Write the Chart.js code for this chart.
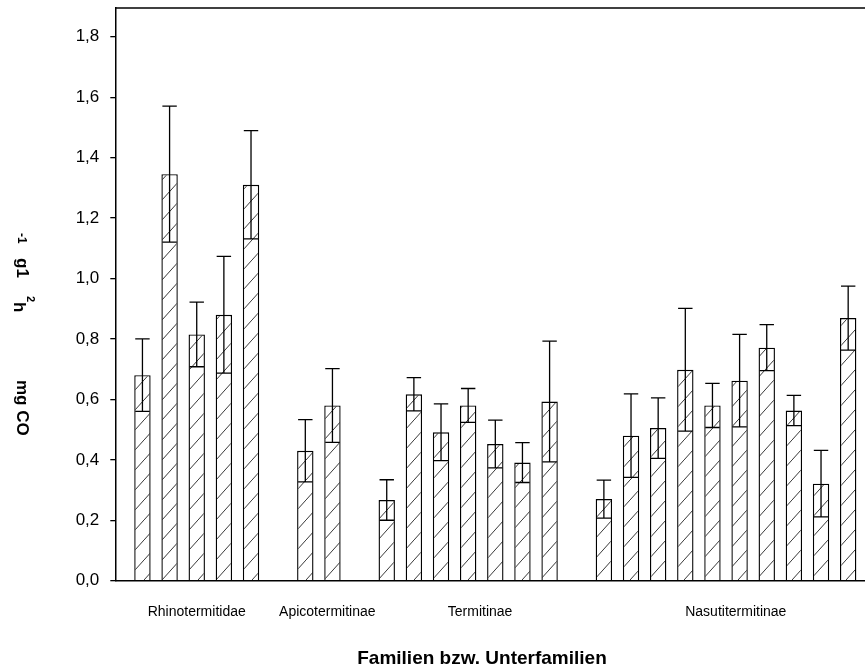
<!DOCTYPE html>
<html>
<head>
<meta charset="utf-8">
<script src="https://cdn.jsdelivr.net/npm/chart.js@4.4.1/dist/chart.umd.min.js"></script>
<style>
html,body{margin:0;padding:0;background:#fff;}
canvas{display:block;}
</style>
</head>
<body>
<canvas id="c" width="865" height="670"></canvas>
<script>
// ---- data ----
const groupNames = ['Rhinotermitidae', 'Apicotermitinae', 'Termitinae', 'Nasutitermitinae'];
const rhinoMeans  = [0.68, 1.345, 0.815, 0.88, 1.31];
const rhinoErr    = [0.12, 0.225, 0.107, 0.193, 0.179];
const apicoMeans  = [0.43, 0.58];
const apicoErr    = [0.103, 0.122];
const termiMeans  = [0.267, 0.617, 0.491, 0.580, 0.452, 0.391, 0.593];
const termiErr    = [0.067, 0.055, 0.094, 0.056, 0.079, 0.066, 0.200];
const nasutiMeans = [0.270, 0.480, 0.505, 0.698, 0.580, 0.662, 0.771, 0.563, 0.321, 0.869];
const nasutiErr   = [0.063, 0.138, 0.100, 0.203, 0.073, 0.153, 0.076, 0.050, 0.110, 0.106];
const yTickValues = [0, 0.2, 0.4, 0.6, 0.8, 1.0, 1.2, 1.4, 1.6, 1.8];
const xTitle = 'Familien bzw. Unterfamilien';

const groupMeans = [rhinoMeans, apicoMeans, termiMeans, nasutiMeans];
const groupErrs  = [rhinoErr, apicoErr, termiErr, nasutiErr];

// build bar slots: one empty slot between groups
const points = [];
const errs = [];
const groupCenters = [];
let slot = 0;
groupMeans.forEach((arr, g) => {
  const start = slot;
  arr.forEach((v, i) => { points.push({x: slot, y: v}); errs.push(groupErrs[g][i]); slot++; });
  groupCenters.push((start + slot - 1) / 2);
  slot++;
});
// label placement tweak (style)
const labelShift = [0, 0.31, 0.44, 0.36];

// hatch pattern
function makeHatch() {
  const w = 18, h = 20;
  const c = document.createElement('canvas');
  c.width = w; c.height = h;
  const x = c.getContext('2d');
  x.fillStyle = '#fff'; x.fillRect(0, 0, w, h);
  x.strokeStyle = '#222'; x.lineWidth = 0.9;
  x.beginPath();
  x.moveTo(-w * 0.1, h * 1.1); x.lineTo(w * 1.1, -h * 0.1);
  x.stroke();
  return x.createPattern(c, 'repeat');
}
const hatch = makeHatch();

const errorBars = {
  id: 'errorBars',
  afterDatasetsDraw(chart) {
    const ctx = chart.ctx;
    const ys = chart.scales.y;
    const meta = chart.getDatasetMeta(0);
    ctx.save();
    ctx.strokeStyle = '#000';
    ctx.lineWidth = 1.3;
    meta.data.forEach((el, i) => {
      const v = points[i].y, e = errs[i];
      const yt = ys.getPixelForValue(v + e);
      const yb = ys.getPixelForValue(v - e);
      const cw = el.width * 0.88;
      ctx.beginPath();
      ctx.moveTo(el.x, yt); ctx.lineTo(el.x, yb);
      ctx.moveTo(el.x - cw / 2, yt); ctx.lineTo(el.x + cw / 2, yt);
      ctx.moveTo(el.x - cw / 2, yb); ctx.lineTo(el.x + cw / 2, yb);
      ctx.stroke();
    });
    ctx.restore();
  }
};

const frame = {
  id: 'frame',
  afterDraw(chart) {
    const ctx = chart.ctx, a = chart.chartArea;
    ctx.save();
    ctx.strokeStyle = '#000'; ctx.lineWidth = 1.5;
    ctx.beginPath();
    ctx.moveTo(a.left, a.top); ctx.lineTo(a.right, a.top);
    ctx.stroke();
    ctx.fillStyle = '#000';
    // x axis title
    ctx.font = 'bold 19px "Liberation Sans", Arial, sans-serif';
    ctx.textAlign = 'center';
    ctx.textBaseline = 'middle';
    ctx.fillText(xTitle, 482, 659);
    // y axis title pieces (rotated clockwise)
    const piece = (txt, bx, y0, size) => {
      ctx.save();
      ctx.translate(bx, y0);
      ctx.rotate(Math.PI / 2);
      ctx.font = 'bold ' + size + 'px "Liberation Sans", Arial, sans-serif';
      ctx.textBaseline = 'alphabetic';
      ctx.textAlign = 'left';
      ctx.fillText(txt, 0, 0);
      ctx.restore();
    };
    piece('-1', 18, 233, 12);
    piece('g1', 16.5, 258, 17);
    piece('h', 14, 302, 17);
    piece('2', 27, 296, 11);
    piece('mg CO', 16.5, 380, 17);
    ctx.restore();
  }
};

new Chart(document.getElementById('c'), {
  type: 'bar',
  data: {
    datasets: [{
      data: points,
      backgroundColor: hatch,
      borderColor: '#000',
      borderWidth: 1.4,
      borderSkipped: 'bottom',
      barPercentage: 0.604,
      categoryPercentage: 1.0
    }]
  },
  options: {
    responsive: false,
    devicePixelRatio: 1,
    animation: false,
    layout: { padding: { top: 8, right: 0, left: 0, bottom: 0 } },
    plugins: { legend: { display: false }, tooltip: { enabled: false } },
    scales: {
      x: {
        type: 'linear',
        offset: false,
        min: -1,
        max: 26.62,
        afterFit(s) { s.height = 89.3; s.paddingLeft = 0; s.paddingRight = 0; },
        afterBuildTicks(s) {
          s.ticks = groupCenters.map((c, i) => ({ value: c + labelShift[i] }));
        },
        grid: { display: false, drawTicks: false, offset: false },
        border: { display: true, color: '#000', width: 1.5 },
        ticks: {
          autoSkip: false,
          maxRotation: 0,
          padding: 23,
          color: '#000',
          font: { family: '"Liberation Sans", Arial, sans-serif', size: 14 },
          callback: (v, i) => groupNames[i]
        },
        title: { display: false }
      },
      y: {
        min: 0,
        max: 1.895,
        afterFit(s) { s.width = 115.3; s.paddingTop = 0; s.paddingBottom = 0; },
        afterBuildTicks(s) { s.ticks = yTickValues.map(v => ({ value: v })); },
        grid: { display: true, drawOnChartArea: false, drawTicks: true, tickLength: 5, color: '#000', lineWidth: 1.3 },
        border: { display: true, color: '#000', width: 1.5 },
        ticks: {
          padding: 11,
          color: '#000',
          font: { family: '"Liberation Sans", Arial, sans-serif', size: 17 },
          callback: v => v.toFixed(1).replace('.', ',')
        }
      }
    }
  },
  plugins: [errorBars, frame]
});
</script>
</body>
</html>
